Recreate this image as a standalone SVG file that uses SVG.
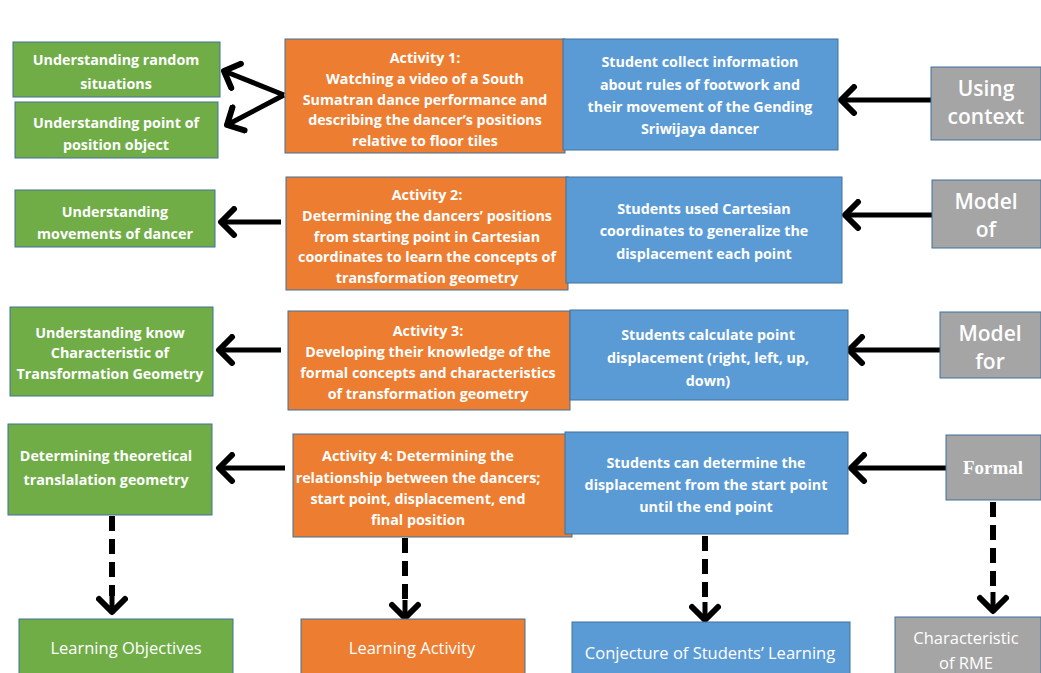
<svg xmlns="http://www.w3.org/2000/svg" width="1041" height="673" viewBox="0 0 1041 673">
<defs>
<style>
.g{fill:#70AD47;stroke:#41719C;stroke-width:1}
.o{fill:#ED7D31;stroke:#41719C;stroke-width:1}
.b{fill:#5B9BD5;stroke:#41719C;stroke-width:1}
.y{fill:#A5A5A5;stroke:#41719C;stroke-width:1}
text{fill:#fff;font-family:"Open Sans","Noto Sans",sans-serif;font-weight:700;font-size:14.3px;text-anchor:middle;dominant-baseline:central}
.big{font-size:21px;font-weight:600}
.ser{font-family:"Liberation Serif",serif;font-size:19px;font-weight:700}
.lb{font-weight:500;font-size:16.5px}
.c{fill:none;stroke:#000;stroke-width:5;stroke-linecap:butt}
.d{fill:none;stroke:#000;stroke-width:6;stroke-dasharray:15 8}
</style>
<marker id="ah" viewBox="0 0 22 32" refX="18" refY="16" markerWidth="22" markerHeight="32" markerUnits="userSpaceOnUse" orient="auto">
<path d="M5,3 L18,16 L5,29" fill="none" stroke="#000" stroke-width="6" stroke-linecap="round" stroke-linejoin="round"/>
</marker>
</defs>
<rect width="1041" height="673" fill="#fff"/>

<g id="connectors">
<path class="c" d="M284,95 L224,71" marker-end="url(#ah)"/>
<path class="c" d="M284,95 L227,125" marker-end="url(#ah)"/>
<path class="c" d="M931,100 L841,100" marker-end="url(#ah)"/>
<path class="c" d="M281,222 L221,222" marker-end="url(#ah)"/>
<path class="c" d="M932,215 L845,215" marker-end="url(#ah)"/>
<path class="c" d="M281,350 L219,350" marker-end="url(#ah)"/>
<path class="c" d="M940,350 L849,350" marker-end="url(#ah)"/>
<path class="c" d="M285,468 L219,468" marker-end="url(#ah)"/>
<path class="c" d="M946,468 L851,468" marker-end="url(#ah)"/>
<path class="d" d="M112,516 L112,596"/>
<path class="c" d="M112,596 L112,612" marker-end="url(#ah)"/>
<path class="d" d="M405,538 L405,600"/>
<path class="c" d="M405,600 L405,618" marker-end="url(#ah)"/>
<path class="d" d="M705,536 L705,602"/>
<path class="c" d="M705,602 L705,620" marker-end="url(#ah)"/>
<path class="d" d="M993,502 L993,592"/>
<path class="c" d="M993,592 L993,611" marker-end="url(#ah)"/>
</g>

<g id="n-obj1"><rect class="g" x="13" y="42" width="207" height="55"/>
<text x="116" y="59">Understanding random</text><text x="116" y="83">situations</text></g>
<g id="n-obj2"><rect class="g" x="15" y="102" width="203" height="56"/>
<text x="116" y="122">Understanding point of</text><text x="116" y="144">position object</text></g>
<g id="n-act1"><rect class="o" x="285" y="39" width="280" height="114"/>
<text x="425" y="57">Activity 1:</text><text x="425" y="78">Watching a video of a South</text><text x="425" y="99">Sumatran dance performance and</text><text x="425" y="119">describing the dancer’s positions</text><text x="425" y="140">relative to floor tiles</text></g>
<g id="n-con1"><rect class="b" x="563" y="39" width="275" height="111"/>
<text x="700" y="61">Student collect information</text><text x="700" y="84">about rules of footwork and</text><text x="700" y="106">their movement of the Gending</text><text x="700" y="128">Sriwijaya dancer</text></g>
<g id="n-rme1"><rect class="y" x="931" y="67" width="110" height="73"/>
<text class="big" x="986" y="88">Using</text><text class="big" x="986" y="116">context</text></g>

<g id="n-obj3"><rect class="g" x="15" y="190" width="200" height="57"/>
<text x="115" y="211">Understanding</text><text x="115" y="233">movements of dancer</text></g>
<g id="n-act2"><rect class="o" x="286" y="177" width="282" height="113"/>
<text x="427" y="194">Activity 2:</text><text x="427" y="215">Determining the dancers’ positions</text><text x="427" y="236">from starting point in Cartesian</text><text x="427" y="256">coordinates to learn the concepts of</text><text x="427" y="277">transformation geometry</text></g>
<g id="n-con2"><rect class="b" x="566" y="177" width="276" height="106"/>
<text x="704" y="208">Students used Cartesian</text><text x="704" y="230">coordinates to generalize the</text><text x="704" y="253">displacement each point</text></g>
<g id="n-rme2"><rect class="y" x="932" y="180" width="109" height="68"/>
<text class="big" x="986" y="201">Model</text><text class="big" x="986" y="229">of</text></g>

<g id="n-obj4"><rect class="g" x="10" y="307" width="203" height="89"/>
<text x="110" y="332">Understanding know</text><text x="110" y="352">Characteristic of</text><text x="110" y="373">Transformation Geometry</text></g>
<g id="n-act3"><rect class="o" x="288" y="311" width="282" height="99"/>
<text x="428" y="330">Activity 3:</text><text x="428" y="351">Developing their knowledge of the</text><text x="428" y="372">formal concepts and characteristics</text><text x="428" y="393">of transformation geometry</text></g>
<g id="n-con3"><rect class="b" x="570" y="310" width="278" height="90"/>
<text x="708" y="334">Students calculate point</text><text x="708" y="357">displacement (right, left, up,</text><text x="708" y="380">down)</text></g>
<g id="n-rme3"><rect class="y" x="940" y="312" width="101" height="66"/>
<text class="big" x="990" y="333">Model</text><text class="big" x="990" y="361">for</text></g>

<g id="n-obj5"><rect class="g" x="8" y="424" width="204" height="91"/>
<text x="106" y="455">Determining theoretical</text><text x="106" y="479">translalation geometry</text></g>
<g id="n-act4"><rect class="o" x="293" y="434" width="279" height="103"/>
<text x="418" y="455">Activity 4: Determining the</text><text x="418" y="477">relationship between the dancers;</text><text x="418" y="498">start point, displacement, end</text><text x="418" y="519">final position</text></g>
<g id="n-con4"><rect class="b" x="565" y="432" width="283" height="102"/>
<text x="706" y="462">Students can determine the</text><text x="706" y="484">displacement from the start point</text><text x="706" y="506">until the end point</text></g>
<g id="n-rme4"><rect class="y" x="946" y="435" width="95" height="65"/>
<text class="ser" x="993" y="467">Formal</text></g>

<g id="n-lo"><rect class="g" x="19" y="619" width="214" height="60"/>
<text class="lb" x="126" y="647">Learning Objectives</text></g>
<g id="n-la"><rect class="o" x="301" y="619" width="224" height="60"/>
<text class="lb" x="412" y="647">Learning Activity</text></g>
<g id="n-cs"><rect class="b" x="572" y="622" width="278" height="60"/>
<text class="lb" x="710" y="652">Conjecture of Students’ Learning</text></g>
<g id="n-rme"><rect class="y" x="895" y="617" width="146" height="62"/>
<text class="lb" x="966" y="637">Characteristic</text><text class="lb" x="966" y="662">of RME</text></g>
</svg>
